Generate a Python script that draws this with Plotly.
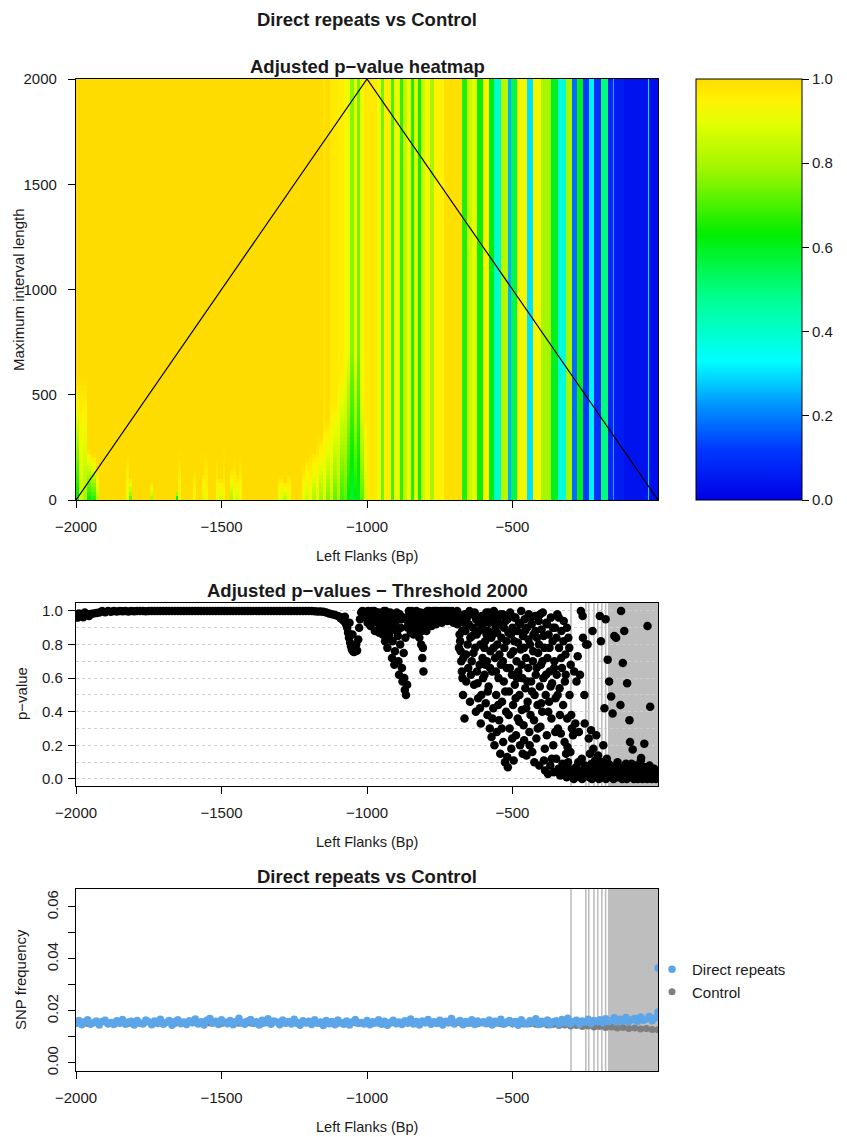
import numpy as np
import plotly.graph_objects as go

FONT = "Liberation Sans, Arial, Helvetica, sans-serif"
W, H = 847, 1137

# ---------------- heatmap data (adjusted p-values by left flank x max interval length)
# left part: columns with a lower-value patch near the bottom that fades to the top value
hm_left_edges = [-2000, -1988, -1975, -1962, -1948, -1932, -1920, -1828, -1818, -1808,
                 -1746, -1736, -1656, -1648, -1640, -1598, -1588, -1568, -1560, -1548,
                 -1520, -1512, -1496, -1488, -1470, -1462, -1450, -1440, -1430, -1305,
                 -1290, -1275, -1260, -1225, -1212, -1200, -1188, -1176, -1164, -1152,
                 -1140, -1128, -1116, -1104, -1092, -1080, -1068, -1058, -1046, -1036,
                 -1024, -1010]
hm_left_top = [1, 1, 1, 1, 1, 1, 1, 1, 1, 1, 1, 1, 1, 1, 1, 1, 1, 1, 1, 1,
               1, 1, 1, 1, 1, 1, 1, 1, 1, 1, 1, 1, 1, 1, 1, 1, 1, 1, 1, 0.98,
               1.0, 0.97, 0.97, 0.96, 0.96, 0.94, 0.9, 0.76, 0.9, 0.74, 0.92, 0.97]
hm_left_low = [0.6, 0.86, 0.8, 0.62, 0.66, 0.82, 1, 0.9, 0.7, 1, 0.78, 1, 0.5, 0.92, 1,
               0.93, 1, 0.85, 0.93, 1, 0.9, 0.88, 0.94, 1, 0.8, 0.92, 0.85, 0.93, 1, 0.88,
               0.82, 0.9, 1, 0.9, 0.85, 0.92, 0.8, 0.9, 0.78, 0.88, 0.75, 0.85, 0.72, 0.8,
               0.68, 0.72, 0.62, 0.58, 0.62, 0.6, 0.72, 0.85]
hm_left_h = [560, 600, 580, 240, 220, 140, 0, 220, 100, 0, 80, 0, 50, 240, 0, 150, 0, 130,
             230, 0, 200, 110, 250, 0, 150, 200, 120, 230, 0, 120, 90, 130, 0, 160, 200,
             260, 230, 320, 300, 400, 380, 480, 450, 560, 600, 650, 700, 700, 650, 700,
             500, 400]
# right part: columns that are constant over all interval lengths
hm_right_edges = [-1000, -965, -952, -940, -916, -906, -886, -876, -862, -850, -839, -826,
                  -815, -799, -785, -770, -736, -672, -655, -640, -621, -603, -581, -563,
                  -540, -517, -506, -483, -449, -431, -403, -368, -345, -317, -294, -277,
                  -259, -236, -219, -196, -173, -156, -150, -116, -36, -30, 0]
hm_right_p = [0.97, 0.92, 0.74, 0.96, 0.7, 0.9, 0.68, 0.84, 0.92, 0.66, 0.88, 0.64, 0.85,
              0.93, 0.8, 0.95, 0.99, 0.66, 0.85, 0.9, 0.64, 0.94, 0.62, 0.4, 0.82, 0.25,
              0.55, 0.93, 0.3, 0.93, 0.8, 0.6, 0.38, 0.8, 0.18, 0.6, 0.12, 0.32, 0.1, 0.5,
              0.08, 0.25, 0.06, 0.04, 0.3, 0.03]
len_edges = list(range(0, 2001, 20))
tri_x = [-2000, -1000, 0]
tri_y = [0, 2000, 0]
cbar_ticks = [0.0, 0.2, 0.4, 0.6, 0.8, 1.0]
cbar_labels = ["0.0", "0.2", "0.4", "0.6", "0.8", "1.0"]

# ---------------- adjusted p-values at threshold 2000 (position, p)
pv_band = [(-2000, 0.972), (-1995, 0.96), (-1990, 0.968), (-1980, 0.975), (-1975, 0.962),
           (-1970, 0.972), (-1960, 0.978), (-1955, 0.97), (-1950, 0.982), (-1940, 0.985),
           (-1930, 0.988), (-1920, 0.99), (-1900, 0.992), (-1880, 0.995), (-1860, 0.996),
           (-1840, 0.998), (-1820, 0.997), (-1800, 0.998), (-1780, 0.999), (-1760, 0.998),
           (-1740, 0.999), (-1720, 1.0), (-1700, 0.999), (-1680, 1.0), (-1660, 0.999),
           (-1640, 1.0), (-1620, 1.0), (-1600, 0.999), (-1580, 1.0), (-1560, 1.0),
           (-1540, 1.0), (-1520, 0.999), (-1500, 1.0), (-1480, 1.0), (-1460, 0.999),
           (-1440, 1.0), (-1420, 1.0), (-1400, 0.999), (-1380, 1.0), (-1360, 1.0),
           (-1340, 0.999), (-1320, 1.0), (-1300, 1.0), (-1280, 0.999), (-1260, 1.0),
           (-1240, 1.0), (-1220, 0.999), (-1200, 1.0), (-1180, 0.998), (-1160, 0.996),
           (-1990, 0.985), (-1970, 0.99), (-1910, 1.0), (-1890, 0.999), (-1870, 1.0),
           (-1850, 1.0), (-1830, 0.999), (-1810, 1.0), (-1790, 1.0), (-1770, 0.999),
           (-1750, 1.0), (-1730, 1.0), (-1710, 0.999), (-1690, 1.0), (-1670, 1.0),
           (-1650, 0.999), (-1630, 1.0), (-1610, 1.0), (-1590, 0.999), (-1570, 1.0),
           (-1550, 1.0), (-1530, 0.999), (-1510, 1.0), (-1490, 1.0), (-1470, 0.999),
           (-1450, 1.0), (-1430, 1.0), (-1410, 0.999), (-1390, 1.0), (-1370, 1.0),
           (-1350, 0.999), (-1330, 1.0), (-1310, 1.0), (-1290, 0.999), (-1270, 1.0),
           (-1250, 1.0), (-1230, 0.999), (-1210, 1.0), (-1190, 0.999), (-1170, 0.997)]
pv_dip = [(-1150, 0.995), (-1140, 0.99), (-1130, 0.985), (-1120, 0.98), (-1110, 0.975),
          (-1100, 0.97), (-1095, 0.965), (-1090, 0.955), (-1085, 0.96), (-1080, 0.94),
          (-1076, 0.965), (-1072, 0.92), (-1068, 0.9), (-1065, 0.87), (-1062, 0.84),
          (-1060, 0.93), (-1058, 0.81), (-1055, 0.79), (-1052, 0.77), (-1050, 0.86),
          (-1048, 0.76), (-1045, 0.755), (-1042, 0.78), (-1040, 0.76), (-1037, 0.8),
          (-1034, 0.765), (-1030, 0.83), (-1027, 0.9), (-1024, 0.95), (-1020, 0.99),
          (-1016, 1.0), (-1012, 0.97), (-1008, 0.995), (-1004, 0.98), (-1000, 0.99)]
pv_mid = [(-996, 1.0), (-990, 0.98), (-985, 0.995), (-980, 0.96), (-975, 1.0), (-970, 0.97),
          (-965, 0.93), (-960, 0.99), (-955, 0.9), (-950, 0.96), (-946, 0.86), (-942, 1.0),
          (-938, 0.82), (-934, 0.95), (-930, 0.78), (-926, 0.92), (-922, 0.98), (-918, 0.88),
          (-914, 0.72), (-910, 0.95), (-906, 0.68), (-902, 0.9), (-898, 0.99), (-894, 0.85),
          (-890, 0.62), (-886, 0.8), (-882, 0.95), (-878, 0.58), (-874, 0.75), (-870, 0.53),
          (-866, 0.5), (-862, 0.56), (-858, 0.92), (-854, 0.98), (-850, 0.87),
          (-846, 1.0), (-842, 0.94), (-838, 0.97), (-834, 0.9), (-830, 1.0), (-826, 0.86),
          (-822, 0.96), (-818, 0.93), (-814, 0.8), (-810, 0.72), (-806, 0.64), (-802, 0.9),
          (-798, 0.99), (-794, 0.95), (-790, 0.97), (-785, 1.0), (-780, 0.96), (-775, 0.99),
          (-770, 0.94), (-765, 1.0), (-760, 0.97), (-755, 0.995), (-750, 0.98), (-745, 1.0),
          (-740, 0.96), (-735, 1.0), (-730, 0.99), (-725, 0.97), (-720, 1.0), (-715, 0.98),
          (-710, 0.995), (-705, 0.95), (-700, 0.99), (-695, 0.97), (-690, 1.0),
          (-998, 0.93), (-993, 0.97), (-988, 0.91), (-983, 1.0), (-978, 0.94), (-973, 0.88),
          (-968, 0.99), (-963, 0.95), (-958, 0.87), (-953, 0.98), (-948, 0.92), (-944, 0.97),
          (-940, 0.89), (-936, 1.0), (-932, 0.9), (-928, 0.96), (-924, 0.85), (-920, 0.99),
          (-916, 0.93), (-912, 0.82), (-908, 0.97), (-904, 0.76), (-900, 0.94), (-896, 0.88),
          (-892, 0.7), (-888, 0.98), (-884, 0.9), (-880, 0.66), (-876, 0.96), (-872, 0.6),
          (-868, 0.84), (-864, 0.95), (-860, 0.9), (-856, 1.0), (-852, 0.94), (-848, 0.91),
          (-844, 0.99), (-840, 0.86), (-836, 0.95), (-832, 0.92), (-828, 0.98), (-824, 0.9),
          (-820, 0.84), (-816, 0.99), (-812, 0.88), (-808, 0.78), (-804, 0.96), (-800, 0.93),
          (-796, 0.88), (-792, 1.0), (-788, 0.92), (-783, 0.97), (-778, 0.91), (-773, 1.0),
          (-768, 0.96), (-763, 0.92), (-758, 1.0), (-753, 0.95), (-748, 0.99), (-743, 0.93),
          (-738, 0.98), (-733, 0.95), (-728, 1.0), (-723, 0.94), (-718, 0.99), (-713, 0.96),
          (-708, 1.0), (-703, 0.93), (-698, 0.99), (-693, 0.95)]
pv_spread = [(-686, 0.98), (-682, 0.86), (-680, 0.82), (-678, 0.76), (-676, 0.7), (-674, 0.64),
             (-672, 0.6), (-670, 0.5), (-668, 0.93), (-665, 0.36), (-662, 0.88), (-660, 0.74),
             (-656, 0.96), (-652, 0.66), (-648, 1.0), (-645, 0.84), (-642, 0.98), (-640, 0.7),
             (-636, 0.9), (-632, 0.56), (-628, 0.78), (-625, 0.95), (-622, 0.64), (-618, 0.48),
             (-615, 0.88), (-612, 0.42), (-609, 0.33), (-606, 0.97), (-603, 0.72), (-600, 0.89),
             (-598, 0.95), (-596, 0.62), (-594, 0.82), (-592, 0.45), (-590, 0.99), (-588, 0.7),
             (-586, 0.38), (-584, 0.88), (-582, 0.55), (-580, 0.93), (-578, 0.3), (-576, 0.76),
             (-574, 0.97), (-572, 0.25), (-570, 0.64), (-568, 0.86), (-566, 0.42), (-564, 1.0),
             (-562, 0.2), (-560, 0.72), (-558, 0.9), (-556, 0.5), (-554, 0.28), (-552, 0.8),
             (-550, 0.96), (-548, 0.6), (-546, 0.35), (-544, 0.92), (-542, 0.15), (-540, 0.68),
             (-538, 0.84), (-536, 0.46), (-534, 0.98), (-532, 0.22), (-530, 0.58), (-528, 0.78),
             (-526, 0.1), (-524, 0.94), (-522, 0.4), (-520, 0.66), (-518, 0.13), (-516, 0.07),
             (-514, 0.87), (-512, 0.52), (-510, 0.3), (-508, 0.99), (-506, 0.74), (-504, 0.18),
             (-502, 0.62), (-500, 0.9), (-498, 0.44), (-496, 0.11), (-494, 0.82), (-492, 0.56),
             (-490, 0.96), (-488, 0.26), (-486, 0.7), (-484, 0.88), (-482, 0.36), (-480, 0.64),
             (-478, 0.93), (-476, 0.5), (-474, 0.2), (-472, 0.77), (-470, 1.0), (-468, 0.41),
             (-466, 0.6), (-464, 0.85), (-462, 0.32), (-460, 0.23), (-458, 0.95), (-456, 0.54),
             (-454, 0.72), (-452, 0.14), (-450, 0.9), (-448, 0.46), (-446, 0.66), (-444, 0.98),
             (-442, 0.28), (-440, 0.8), (-438, 0.38), (-436, 0.58), (-434, 0.92), (-432, 0.16),
             (-430, 0.7), (-428, 0.86), (-426, 0.35), (-424, 0.5), (-422, 0.97), (-420, 0.62),
             (-418, 0.24), (-416, 0.84), (-414, 0.44), (-412, 0.75), (-410, 0.94), (-408, 0.08),
             (-406, 0.55), (-404, 0.31), (-402, 0.68), (-400, 0.89), (-398, 0.4), (-396, 0.99),
             (-394, 0.6), (-392, 0.11), (-390, 0.78), (-388, 0.05), (-386, 0.5), (-384, 0.93),
             (-382, 0.26), (-380, 0.72), (-378, 0.03), (-376, 0.86), (-374, 0.46), (-372, 0.64),
             (-370, 0.08), (-368, 0.96), (-366, 0.36), (-364, 0.57), (-362, 0.82), (-360, 0.2),
             (-358, 0.04), (-356, 0.7), (-354, 0.9), (-352, 0.48), (-350, 0.12), (-348, 0.62),
             (-346, 0.98), (-344, 0.3), (-342, 0.06), (-340, 0.78), (-338, 0.54), (-336, 0.02),
             (-334, 0.27), (-332, 0.88), (-330, 0.66), (-328, 0.09), (-326, 0.44), (-324, 0.94),
             (-322, 0.04), (-320, 0.58), (-318, 0.74), (-316, 0.15), (-314, 0.01), (-312, 0.36),
             (-311, 0.19), (-308, 0.84), (-306, 0.06), (-304, 0.5), (-302, 0.03), (-300, 0.68),
             (-689, 0.92), (-684, 0.78), (-679, 0.95), (-673, 0.88), (-669, 0.72), (-664, 0.98),
             (-659, 0.58), (-654, 0.8), (-650, 0.92), (-646, 0.46), (-643, 0.62), (-638, 0.85),
             (-634, 0.75), (-630, 0.99), (-626, 0.4), (-623, 0.86), (-620, 0.57), (-616, 0.93),
             (-613, 0.68), (-610, 0.8), (-607, 0.5), (-604, 0.91), (-601, 0.6), (-597, 0.78),
             (-593, 0.68), (-589, 0.86), (-585, 0.52), (-581, 0.99), (-577, 0.66), (-573, 0.84),
             (-569, 0.36), (-565, 0.78), (-561, 0.94), (-557, 0.64), (-553, 0.87), (-549, 0.44),
             (-545, 0.74), (-541, 0.98), (-537, 0.3), (-533, 0.7), (-529, 0.9), (-525, 0.52),
             (-521, 0.82), (-517, 0.95), (-513, 0.38), (-509, 0.66), (-505, 0.86), (-501, 0.24),
             (-497, 0.76), (-493, 0.96), (-489, 0.48), (-485, 0.6), (-481, 0.81), (-477, 0.34),
             (-473, 0.92), (-469, 0.68), (-465, 0.15), (-461, 0.78), (-457, 0.88), (-453, 0.42),
             (-449, 0.58), (-445, 0.83), (-441, 0.2), (-437, 0.96), (-433, 0.52), (-429, 0.76),
             (-425, 0.1), (-421, 0.88), (-417, 0.66), (-413, 0.3), (-409, 0.8), (-405, 0.98),
             (-401, 0.45), (-397, 0.7), (-393, 0.85), (-389, 0.18), (-385, 0.62), (-381, 0.92),
             (-377, 0.4), (-373, 0.78), (-369, 0.55), (-365, 0.12), (-361, 0.9), (-357, 0.66),
             (-353, 0.28), (-349, 0.84), (-345, 0.5), (-341, 0.96), (-337, 0.38), (-333, 0.72),
             (-329, 0.06), (-325, 0.82), (-321, 0.22), (-317, 0.62), (-313, 0.9), (-309, 0.1),
             (-305, 0.78), (-301, 0.16)]
pv_sig = [(-298, 0.38), (-296, 0.3), (-294, 0.02), (-292, 0.26), (-290, 0.05), (-288, 0.64),
          (-286, 0.01), (-284, 0.33), (-282, 0.07), (-280, 0.58), (-278, 0.03), (-276, 0.73),
          (-274, 0.1), (-272, 0.28), (-270, 0.02), (-268, 0.62), (-266, 0.05), (-265, 1.0),
          (-262, 0.12), (-259, 0.97), (-258, 0.84), (-256, 0.04), (-253, 0.5), (-252, 0.33),
          (-250, 0.08), (-247, 0.8), (-245, 0.02), (-242, 0.8), (-240, 0.06), (-238, 0.24),
          (-236, 0.01), (-234, 0.15), (-232, 0.04), (-230, 0.29), (-228, 0.09), (-225, 0.88),
          (-224, 0.03), (-222, 0.18), (-220, 0.05), (-218, 0.01), (-216, 0.11), (-214, 0.03),
          (-212, 0.26), (-210, 0.07), (-208, 0.02), (-206, 0.14), (-204, 0.04), (-200, 0.97),
          (-198, 0.06), (-196, 0.82), (-194, 0.01), (-192, 0.1), (-190, 0.04), (-188, 0.2),
          (-186, 0.02), (-184, 0.42), (-182, 0.07), (-180, 0.95), (-178, 0.03), (-176, 0.12),
          (-174, 0.01), (-173, 0.71), (-170, 0.05), (-168, 0.58), (-166, 0.02), (-164, 0.08),
          (-161, 0.49), (-158, 0.03), (-156, 0.39), (-154, 0.06), (-150, 0.85), (-148, 0.02),
          (-144, 0.84), (-142, 0.05), (-138, 0.01), (-134, 0.07), (-129, 0.44), (-127, 1.0),
          (-125, 0.03), (-121, 0.69), (-119, 0.05), (-116, 0.88), (-114, 0.02), (-110, 0.09),
          (-106, 0.57), (-104, 0.04), (-100, 0.01), (-98, 0.35), (-96, 0.22), (-94, 0.06),
          (-90, 0.02), (-87, 0.175), (-85, 0.08), (-80, 0.03), (-76, 0.05), (-72, 0.01),
          (-68, 0.07), (-64, 0.03), (-59, 0.11), (-58, 0.125), (-55, 0.02), (-50, 0.05),
          (-47, 0.21), (-44, 0.03), (-40, 0.07), (-36, 0.91), (-34, 0.02), (-30, 0.04),
          (-27, 0.43), (-24, 0.06), (-20, 0.02), (-16, 0.05), (-12, 0.01), (-8, 0.04),
          (-4, 0.02), (-1, 0.03),
          (-289, 0.0), (-271, 0.04), (-261, 0.0), (-249, 0.03), (-237, 0.06), (-227, 0.0),
          (-217, 0.07), (-203, 0.0), (-189, 0.08), (-179, 0.0), (-171, 0.09), (-163, 0.03),
          (-153, 0.0), (-147, 0.06), (-139, 0.1), (-131, 0.02), (-123, 0.0), (-113, 0.06),
          (-107, 0.0), (-97, 0.02), (-91, 0.09), (-83, 0.0), (-77, 0.08), (-69, 0.0),
          (-61, 0.04), (-53, 0.0), (-45, 0.07), (-37, 0.0), (-29, 0.08), (-21, 0.0),
          (-13, 0.06), (-6, 0.0)]

# significant positions (grey marks in the lower two panels)
sig_lines = [-299, -248, -238, -220, -207, -193, -180]
sig_region = [-172, 0]

# ---------------- SNP frequency
dr_pos = list(range(-2000, 1, 10))
dr_freq = [0.0152, 0.0163, 0.0147, 0.0158, 0.0166, 0.0149, 0.0155, 0.0161, 0.0146, 0.0159,
           0.0164, 0.0150, 0.0156, 0.0148, 0.0162, 0.0153, 0.0167, 0.0149, 0.0157, 0.0160,
           0.0146, 0.0163, 0.0154, 0.0150, 0.0165, 0.0158, 0.0147, 0.0161, 0.0152, 0.0168,
           0.0149, 0.0156, 0.0163, 0.0145, 0.0159, 0.0166, 0.0151, 0.0157, 0.0148, 0.0162,
           0.0155, 0.0169, 0.0150, 0.0158, 0.0146, 0.0164, 0.0171, 0.0153, 0.0160, 0.0148,
           0.0166, 0.0157, 0.0151, 0.0163, 0.0147, 0.0159, 0.0172, 0.0154, 0.0149, 0.0161,
           0.0167, 0.0152, 0.0158, 0.0146, 0.0164, 0.0155, 0.0170, 0.0149, 0.0161, 0.0157,
           0.0147, 0.0165, 0.0153, 0.0159, 0.0150, 0.0168, 0.0156, 0.0145, 0.0162, 0.0154,
           0.0160, 0.0148, 0.0166, 0.0153, 0.0157, 0.0144, 0.0163, 0.0151, 0.0159, 0.0147,
           0.0165, 0.0155, 0.0149, 0.0161, 0.0146, 0.0158, 0.0167, 0.0152, 0.0156, 0.0150,
           0.0163, 0.0147, 0.0158, 0.0154, 0.0166, 0.0149, 0.0160, 0.0145, 0.0156, 0.0164,
           0.0151, 0.0157, 0.0148, 0.0162, 0.0153, 0.0169, 0.0150, 0.0159, 0.0146, 0.0161,
           0.0155, 0.0167, 0.0149, 0.0158, 0.0152, 0.0164, 0.0146, 0.0160, 0.0156, 0.0171,
           0.0150, 0.0157, 0.0163, 0.0147, 0.0159, 0.0153, 0.0166, 0.0148, 0.0161, 0.0155,
           0.0158, 0.0151, 0.0165, 0.0146, 0.0160, 0.0154, 0.0168, 0.0149, 0.0157, 0.0163,
           0.0152, 0.0159, 0.0145, 0.0166, 0.0155, 0.0150, 0.0162, 0.0156, 0.0170, 0.0148,
           0.0160, 0.0153, 0.0165, 0.0147, 0.0158, 0.0162, 0.0150, 0.0167, 0.0155, 0.0172,
           0.0151, 0.0159, 0.0164, 0.0149, 0.0161, 0.0157, 0.0168, 0.0152, 0.0163, 0.0158,
           0.0166, 0.0155, 0.0170, 0.0159, 0.0163, 0.0174, 0.0157, 0.0168, 0.0161, 0.0175,
           0.0158, 0.0166, 0.0171, 0.0160, 0.0177, 0.0164, 0.0169, 0.0179, 0.0162, 0.0173,
           0.0181]
dr_extra_pos = [0, 0]
dr_extra_freq = [0.0365, 0.0196]
ct_pos = list(range(-2000, 1, 20))
ct_freq = [0.0153, 0.0156, 0.0152, 0.0155, 0.0154, 0.0157, 0.0153, 0.0155, 0.0156, 0.0152,
           0.0155, 0.0153, 0.0157, 0.0152, 0.0155, 0.0154, 0.0157, 0.0153, 0.0155, 0.0154,
           0.0155, 0.0152, 0.0157, 0.0154, 0.0155, 0.0152, 0.0156, 0.0154, 0.0153, 0.0157,
           0.0154, 0.0156, 0.0152, 0.0155, 0.0157, 0.0153, 0.0154, 0.0156, 0.0152, 0.0155,
           0.0154, 0.0156, 0.0152, 0.0157, 0.0154, 0.0153, 0.0156, 0.0152, 0.0155, 0.0154,
           0.0156, 0.0152, 0.0154, 0.0157, 0.0153, 0.0155, 0.0152, 0.0156, 0.0154, 0.0152,
           0.0155, 0.0152, 0.0156, 0.0153, 0.0154, 0.0152, 0.0155, 0.0153, 0.0154, 0.0151,
           0.0154, 0.0152, 0.0153, 0.0151, 0.0153, 0.0150, 0.0152, 0.0150, 0.0151, 0.0149,
           0.0150, 0.0146, 0.0148, 0.0144, 0.0146, 0.0142, 0.0144, 0.0140, 0.0142, 0.0138,
           0.0140, 0.0136, 0.0138, 0.0134, 0.0136, 0.0132, 0.0134, 0.0131, 0.0132, 0.0129,
           0.0128]

x_ticks = [-2000, -1500, -1000, -500]
x_labels = ["\u22122000", "\u22121500", "\u22121000", "\u2212500"]

assert len(hm_left_edges) == len(hm_left_top) == len(hm_left_low) == len(hm_left_h)
assert len(hm_right_edges) == len(hm_right_p) + 1
assert len(dr_pos) == len(dr_freq) and len(ct_pos) == len(ct_freq)

# ---------------- build heatmap grid
edges = hm_left_edges + hm_right_edges
col_top = hm_left_top + hm_right_p
col_low = hm_left_low + hm_right_p
col_h = hm_left_h + [0] * len(hm_right_p)
Lc = np.array([(len_edges[i] + len_edges[i + 1]) / 2 for i in range(len(len_edges) - 1)])
z = np.empty((len(Lc), len(col_top)))
for j, (t, lo, h) in enumerate(zip(col_top, col_low, col_h)):
    if h <= 0:
        z[:, j] = t
    else:
        z[:, j] = lo + (t - lo) * np.clip(Lc / h, 0, 1)

colorscale = [[0.0, "#0000E6"], [0.12, "#0038FF"], [0.22, "#0090FF"], [0.33, "#00FFFF"],
              [0.48, "#00FF90"], [0.63, "#00EE00"], [0.78, "#9CF500"], [0.9, "#E6FF00"],
              [0.95, "#FFF200"], [1.0, "#FFDC00"]]

def py(v):
    return 1 - v / H

XDOM = [76 / W, 658 / W]
fig = go.Figure()

fig.add_trace(go.Heatmap(
    x=edges, y=len_edges, z=z, zmin=0, zmax=1, colorscale=colorscale,
    xaxis="x", yaxis="y", hoverinfo="skip",
    colorbar=dict(x=696 / W, xanchor="left", y=py(79), yanchor="top",
                  len=421 / H, lenmode="fraction", thickness=106, thicknessmode="pixels",
                  xpad=0, ypad=0, outlinewidth=1, outlinecolor="black",
                  ticks="outside", ticklen=7, tickcolor="black", tickwidth=1,
                  tickvals=cbar_ticks, ticktext=cbar_labels,
                  tickfont=dict(size=15, color="#1a1a1a", family=FONT)),
))
fig.add_trace(go.Scatter(x=tri_x, y=tri_y, mode="lines", line=dict(color="black", width=1.2),
                         xaxis="x", yaxis="y", showlegend=False, hoverinfo="skip"))

pv_all = pv_band + pv_dip + pv_mid + pv_spread + pv_sig
fig.add_trace(go.Scatter(x=[p[0] for p in pv_all], y=[p[1] for p in pv_all], mode="markers",
                         marker=dict(color="black", size=8.5), xaxis="x2", yaxis="y2",
                         showlegend=False, hoverinfo="skip"))

fig.add_trace(go.Scatter(x=ct_pos, y=ct_freq, mode="markers", name="Control",
                         marker=dict(color="#7F7F7F", size=7), xaxis="x3", yaxis="y3",
                         legendrank=2))
fig.add_trace(go.Scatter(x=dr_pos + dr_extra_pos, y=dr_freq + dr_extra_freq, mode="markers",
                         name="Direct repeats", marker=dict(color="#5CA5E8", size=7.5),
                         xaxis="x3", yaxis="y3", legendrank=1))

shapes = []
for xr, yr in (("x2", "y2 domain"), ("x3", "y3 domain")):
    for xv in sig_lines:
        shapes.append(dict(type="line", xref=xr, yref=yr, x0=xv, x1=xv, y0=0, y1=1,
                           line=dict(color="#BEBEBE", width=1.6), layer="below"))
    shapes.append(dict(type="rect", xref=xr, yref=yr, x0=sig_region[0], x1=sig_region[1],
                       y0=0, y1=1, fillcolor="#BEBEBE", line=dict(width=0), layer="below"))

axis_common = dict(showline=True, mirror=True, linecolor="black", linewidth=1.2,
                   ticks="outside", ticklen=7, tickcolor="black", tickwidth=1,
                   tickfont=dict(size=15, color="#1a1a1a", family=FONT),
                   showgrid=False, zeroline=False, automargin=False)

xa = dict(axis_common, range=[-2000, 0], tickvals=x_ticks, ticktext=x_labels,
          domain=XDOM, ticklabelstandoff=6)

fig.update_layout(
    width=W, height=H, margin=dict(l=0, r=0, t=0, b=0, pad=0),
    paper_bgcolor="white", plot_bgcolor="white",
    font=dict(family=FONT, color="#1a1a1a"),
    shapes=shapes,
    xaxis=dict(xa, anchor="y"),
    yaxis=dict(axis_common, domain=[py(500), py(79)], anchor="x", range=[0, 2000],
               tickvals=[0, 500, 1000, 1500, 2000], ticklabelstandoff=8),
    xaxis2=dict(xa, anchor="y2"),
    yaxis2=dict(axis_common, domain=[py(786), py(603)], anchor="x2", range=[-0.042, 1.047],
                tickvals=[0, 0.2, 0.4, 0.6, 0.8, 1.0],
                ticktext=["0.0", "0.2", "0.4", "0.6", "0.8", "1.0"],
                showgrid=True, gridcolor="#CFCFCF", griddash="dot", gridwidth=1,
                minor=dict(dtick=0.1, tick0=0, showgrid=True, gridcolor="#CFCFCF",
                           griddash="dot", gridwidth=1, ticks=""),
                ticklabelstandoff=2),
    xaxis3=dict(xa, anchor="y3"),
    yaxis3=dict(axis_common, domain=[py(1071), py(889)], anchor="x3",
                range=[-0.0031, 0.0669], tickvals=[0, 0.02, 0.04, 0.06],
                ticktext=["0.00", "0.02", "0.04", "0.06"], tickangle=-90,
                minor=dict(tickvals=[0.01, 0.03, 0.05], ticks="outside", ticklen=7,
                           tickcolor="black", tickwidth=1, showgrid=False),
                ticklabelstandoff=4),
    legend=dict(x=652 / W, xanchor="left", y=py(953), yanchor="top",
                bgcolor="rgba(0,0,0,0)", font=dict(size=15, family=FONT, color="#1a1a1a"),
                itemsizing="trace", tracegroupgap=0),
    showlegend=True,
)

CX = (76 + 658) / 2 / W
ann = [
    dict(text="<b>Direct repeats vs Control</b>", x=CX, y=py(19), size=18.5),
    dict(text="<b>Adjusted p\u2212value heatmap</b>", x=CX, y=py(66), size=18.5),
    dict(text="<b>Adjusted p\u2212values \u2212 Threshold 2000</b>", x=CX, y=py(590), size=18.5),
    dict(text="<b>Direct repeats vs Control</b>", x=CX, y=py(876), size=18.5),
    dict(text="Left Flanks (Bp)", x=CX, y=py(556), size=14.5),
    dict(text="Left Flanks (Bp)", x=CX, y=py(842), size=14.5),
    dict(text="Left Flanks (Bp)", x=CX, y=py(1127), size=14.5),
]
annotations = []
for a in ann:
    annotations.append(dict(text=a["text"], x=a["x"], y=a["y"], xref="paper", yref="paper",
                            xanchor="center", yanchor="middle", showarrow=False,
                            font=dict(size=a["size"], family=FONT, color="#1a1a1a")))
for txt, xp, yp in (("Maximum interval length", 18, 290), ("p\u2212value", 22, 694),
                    ("SNP frequency", 20, 980)):
    annotations.append(dict(text=txt, x=xp / W, y=py(yp), xref="paper", yref="paper",
                            xanchor="center", yanchor="middle", showarrow=False, textangle=-90,
                            font=dict(size=15, family=FONT, color="#1a1a1a")))
fig.update_layout(annotations=annotations)

fig.write_html("out.html")
